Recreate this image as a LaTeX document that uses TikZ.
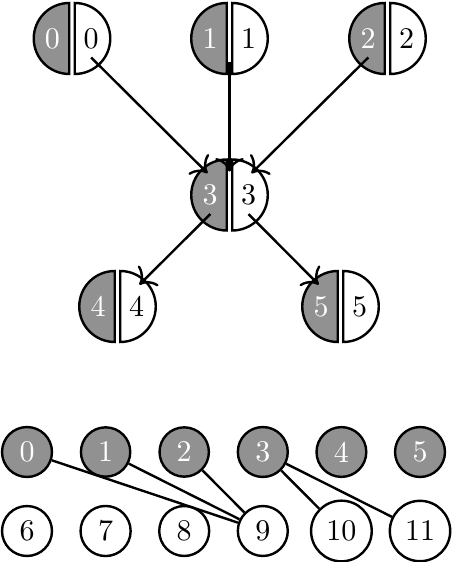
\documentclass[tikz,border=0pt]{standalone}
\usetikzlibrary{calc, arrows.meta}
\definecolor{halfgray}{RGB}{145,145,145}
\tikzset{
  ln/.style={line width=0.8pt},
  grayhalf/.style={ln, draw=black, fill=halfgray},
  whitehalf/.style={ln, draw=black, fill=white},
  graytxt/.style={text=white, inner sep=0pt},
  whitetxt/.style={text=black, inner sep=0pt},
  arr/.style={ln, -{To[scale=1.35]}},
  diag/.style={shorten <=9pt, shorten >=10.3pt},
  vert/.style={shorten <=7.8pt, shorten >=7.8pt},
  graycirc/.style={circle, ln, draw=black, fill=halfgray, text=white, inner sep=2.9pt},
  whitecirc/.style={circle, ln, draw=black, fill=white, text=black, inner sep=2.9pt},
  plainedge/.style={ln}
}
\newcommand{\pairnode}[3]{%
  \coordinate (#1) at (#2);
  \draw[grayhalf] ($(#1)+(-2.75,35.5)$) arc[start angle=90, end angle=270, radius=35.5] -- cycle;
  \draw[whitehalf] ($(#1)+(2.75,-35.5)$) arc[start angle=-90, end angle=90, radius=35.5] -- cycle;
  \node[graytxt] (#1g) at ($(#1)+(-19.5,0)$) {#3};
  \node[whitetxt] (#1w) at ($(#1)+(19,0)$) {#3};
}
\begin{document}
\begin{tikzpicture}[x=0.3333pt, y=0.3333pt]
\useasboundingbox (0,0) rectangle (452,-562);
% top pairs
\pairnode{p0}{72,-38.5}{0}
\pairnode{p1}{229.5,-38.5}{1}
\pairnode{p2}{387.5,-38.5}{2}
\pairnode{p3}{229.5,-195}{3}
\pairnode{p4}{117.5,-306.5}{4}
\pairnode{p5}{340.5,-306.5}{5}
% top arrows
\draw[arr, diag] (p0) -- (p3);
\draw[arr, vert] (p1) -- (p3);
\draw[arr, diag] (p2) -- (p3);
\draw[arr, diag] (p3) -- (p4);
\draw[arr, diag] (p3) -- (p5);
% bottom rows
\foreach \i/\x in {0/27, 1/105.6, 2/184.2, 3/262.8, 4/341.4, 5/420} {
  \node[graycirc] (b\i) at (\x,-452) {\i};
}
\foreach \i/\x in {6/27, 7/105.6, 8/184.2, 9/262.8, 10/341.4, 11/420} {
  \node[whitecirc] (b\i) at (\x,-531) {\i};
}
\draw[plainedge] (b0) -- (b9);
\draw[plainedge] (b1) -- (b9);
\draw[plainedge] (b2) -- (b9);
\draw[plainedge] (b3) -- (b10);
\draw[plainedge] (b3) -- (b11);
\end{tikzpicture}
\end{document}
